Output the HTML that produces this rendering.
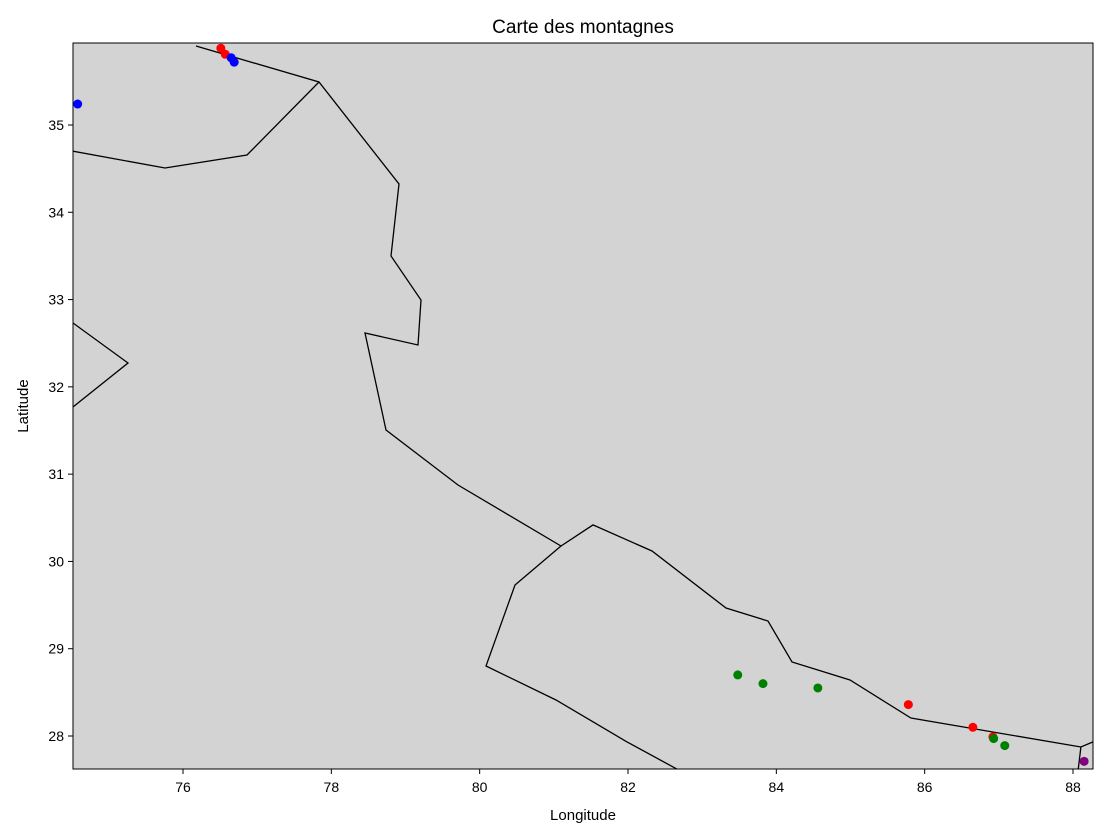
<!DOCTYPE html>
<html><head><meta charset="utf-8"><style>
body{margin:0;background:#fff;}
svg{display:block;font-family:"Liberation Sans","DejaVu Sans",sans-serif;}
</style></head><body>
<svg id="chart" width="1103" height="832">
<defs><clipPath id="clip"><rect x="73" y="43" width="1020" height="726"/></clipPath></defs>
<rect x="73" y="43" width="1020" height="726" fill="#d3d3d3"/>
<g id="borders" clip-path="url(#clip)"></g>
<g id="points" clip-path="url(#clip)"></g>
<rect x="73" y="43" width="1020" height="726" fill="none" stroke="#000" stroke-width="1"/>
<g id="xticks"></g>
<g id="yticks"></g>
<text x="583" y="33" text-anchor="middle" font-size="19">Carte des montagnes</text>
<text x="583" y="820" text-anchor="middle" font-size="15">Longitude</text>
<text x="28" y="406" text-anchor="middle" font-size="15" transform="rotate(-90 28 406)">Latitude</text>
</svg>
<script>
const xTicks=[76,78,80,82,84,86,88];
const yTicks=[28,29,30,31,32,33,34,35];
const border1Lon=[76.175,77.834,78.912,78.804,79.209,79.168,78.454,78.737,79.708,81.096,81.528,82.323,83.321,83.887,84.211,84.993,85.815,88.107,88.269];
const border1Lat=[35.905,35.493,34.324,33.499,32.995,32.480,32.617,31.506,30.876,30.177,30.418,30.120,29.467,29.318,28.848,28.642,28.206,27.874,27.932];
const border2Lon=[74.45,75.757,76.863,77.834];
const border2Lat=[34.71,34.507,34.656,35.493];
const border3Lon=[74.517,75.258,74.517];
const border3Lat=[32.732,32.273,31.769];
const border4Lon=[81.096,80.476,80.085,81.029,81.986,82.75];
const border4Lat=[30.177,29.730,28.802,28.413,27.932,27.58];
const border5Lon=[88.107,88.06];
const border5Lat=[27.874,27.55];
const redLon=[76.51,76.57,85.78,86.65,86.92];
const redLat=[35.88,35.81,28.36,28.10,27.99];
const greenLon=[83.48,83.82,84.56,86.93,87.08];
const greenLat=[28.70,28.60,28.55,27.97,27.89];
const blueLon=[76.65,76.69,74.58];
const blueLat=[35.77,35.72,35.24];
const purpleLon=[88.15];
const purpleLat=[27.71];

const NS="http://www.w3.org/2000/svg";
function X(v){return 183+(v-76)*(890/12);}
function Y(v){return 125-(v-35)*(611/7);}
const bg=document.getElementById('borders');
[[border1Lon,border1Lat],[border2Lon,border2Lat],[border3Lon,border3Lat],[border4Lon,border4Lat],[border5Lon,border5Lat]].forEach((b,i)=>{
  const p=document.createElementNS(NS,'polyline');
  p.setAttribute('points',b[0].map((v,j)=>X(v).toFixed(1)+','+Y(b[1][j]).toFixed(1)).join(' '));
  p.setAttribute('fill','none');p.setAttribute('stroke','#000');p.setAttribute('stroke-width','1.3');
  
  
  bg.appendChild(p);
});
const pg=document.getElementById('points');
[[redLon,redLat,'red'],[greenLon,greenLat,'green'],[blueLon,blueLat,'blue'],[purpleLon,purpleLat,'purple']].forEach(s=>{
  s[0].forEach((v,j)=>{
    const c=document.createElementNS(NS,'circle');
    c.setAttribute('cx',X(v));c.setAttribute('cy',Y(s[1][j]));c.setAttribute('r','4.5');c.setAttribute('fill',s[2]);
    
    
    pg.appendChild(c);
  });
});
const xg=document.getElementById('xticks');
xTicks.forEach(t=>{
  const l=document.createElementNS(NS,'line');
  l.setAttribute('x1',X(t));l.setAttribute('x2',X(t));l.setAttribute('y1',769);l.setAttribute('y2',774);l.setAttribute('stroke','#000');
  
  
  xg.appendChild(l);
  const tx=document.createElementNS(NS,'text');
  tx.setAttribute('x',X(t));tx.setAttribute('y',792);tx.setAttribute('text-anchor','middle');tx.setAttribute('font-size','14');
  tx.textContent=t;
  
  
  xg.appendChild(tx);
});
const yg=document.getElementById('yticks');
yTicks.forEach(t=>{
  const l=document.createElementNS(NS,'line');
  l.setAttribute('x1',68);l.setAttribute('x2',73);l.setAttribute('y1',Y(t));l.setAttribute('y2',Y(t));l.setAttribute('stroke','#000');
  
  
  yg.appendChild(l);
  const tx=document.createElementNS(NS,'text');
  tx.setAttribute('x',64);tx.setAttribute('y',Y(t)+5);tx.setAttribute('text-anchor','end');tx.setAttribute('font-size','14');
  tx.textContent=t;
  
  
  yg.appendChild(tx);
});
</script>
</body></html>
